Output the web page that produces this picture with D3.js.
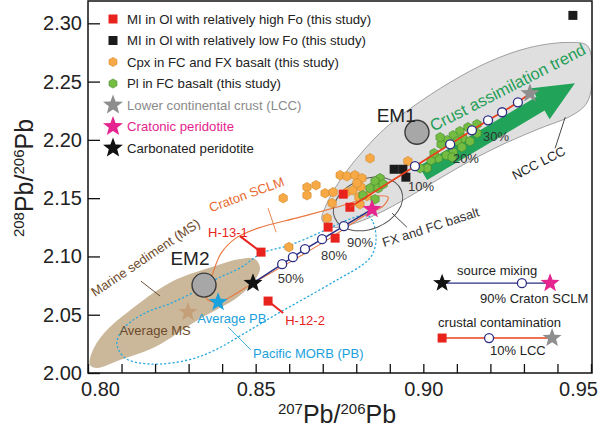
<!DOCTYPE html>
<html><head><meta charset="utf-8">
<script src="https://cdn.jsdelivr.net/npm/d3@7"></script>
<style>body{margin:0;background:#fff}svg{display:block;font-family:"Liberation Sans",Arial,sans-serif}</style>
</head><body><svg id="c" width="600" height="436"></svg>
<script>
// ---------------- data ----------------
const xMajor = [0.80, 0.85, 0.90, 0.95];
const xMinor = [0.80,0.81,0.82,0.83,0.84,0.85,0.86,0.87,0.88,0.89,0.90,0.91,0.92,0.93,0.94,0.95];
const yTicks = [2.00, 2.05, 2.10, 2.15, 2.20, 2.25, 2.30];

// MI in Ol, relatively high Fo (red squares)
const miHighFo = [[0.8516,2.1037],[0.8537,2.0617],[0.8761,2.1534],[0.8781,2.1422],[0.8716,2.1251],[0.8737,2.1157]];
// MI in Ol, relatively low Fo (black squares)
const miLowFo = [[0.8913,2.1748],[0.8939,2.1748],[0.8948,2.1680],[0.9446,2.3068]];
// Cpx in FC and FX basalt (orange hexagons)
const cpx = [[0.8841,2.1842],[0.8954,2.1817],[0.8752,2.1697],[0.8772,2.1688],[0.8796,2.1697],[0.8817,2.1671],
  [0.8653,2.1594],[0.8680,2.1611],[0.8653,2.1525],[0.8707,2.1542],[0.8731,2.1551],[0.8772,2.1551],[0.8790,2.1568],
  [0.8814,2.1594],[0.8808,2.1508],[0.8832,2.1517],[0.8728,2.1457],[0.8811,2.1448],[0.8713,2.1328],[0.8582,2.1500],
  [0.8599,2.1080],[0.8802,2.1628]];
// Pl in FC basalt (green hexagons)
const pl = [[0.9160,2.2134],[0.9133,2.2108],[0.9109,2.2074],[0.9089,2.2039],[0.9160,2.2057],[0.9118,2.2014],
  [0.9101,2.1988],[0.9071,2.1997],[0.9053,2.1962],[0.9050,2.2022],[0.9115,2.1937],[0.9089,2.1894],[0.9068,2.1868],
  [0.9044,2.1842],[0.9023,2.1825],[0.9086,2.1851],[0.9011,2.1757],[0.9032,2.1885],[0.8871,2.1671],[0.8856,2.1645],
  [0.8841,2.1585],[0.8865,2.1585],[0.8880,2.1620],[0.8856,2.1491],[0.8820,2.1525],[0.8990,2.1757],[0.9139,2.1988]];

// end members
const em1 = [0.8981, 2.2065];
const em2 = [0.8346, 2.0754];
const lccStar = [0.9318, 2.2399];
const cratonicStar = [0.8847, 2.1405];
const carbonatedStar = [0.8492, 2.0771];
const avgMS = [0.8298, 2.0523];
const avgPB = [0.8388, 2.0608];

// mixing curves
const sourceMixing = [[0.8492,2.0771],[0.8579,2.0934],[0.8611,2.0994],[0.8647,2.1063],[0.8698,2.1148],[0.8763,2.1260],[0.8847,2.1405]];
const sourceMixNodes = [[0.8579,2.0934],[0.8611,2.0994],[0.8647,2.1063],[0.8698,2.1148],[0.8763,2.1260]];
const crustMixing = [[0.8781,2.1422],[0.8975,2.1774],[0.9080,2.1962],[0.9145,2.2082],[0.9193,2.2168],[0.9235,2.2237],[0.9282,2.2322],[0.9318,2.2399]];
const crustMixNodes = [[0.8975,2.1774],[0.9080,2.1962],[0.9145,2.2082],[0.9193,2.2168],[0.9235,2.2237],[0.9282,2.2322]];
const pctLabels = [["10%",0.8993,2.1560],["20%",0.9127,2.1799],["30%",0.9217,2.1988],["50%",0.8605,2.0771],["80%",0.8734,2.0968],["90%",0.8811,2.1080]];

// fields
const nccLcc = [[0.8698,2.1311],[0.8710,2.1440],[0.8752,2.1654],[0.8817,2.1894],[0.8886,2.2099],[0.8966,2.2279],
  [0.9080,2.2494],[0.9199,2.2674],[0.9318,2.2793],[0.9432,2.2836],[0.9488,2.2811],[0.9503,2.2682],[0.9503,2.2468],
  [0.9485,2.2305],[0.9438,2.2202],[0.9348,2.2099],[0.9244,2.1971],[0.9154,2.1842],[0.9065,2.1697],[0.8975,2.1542],
  [0.8886,2.1397],[0.8796,2.1285],[0.8731,2.1251]];
const marineSed = [[0.8006,2.0069],[0.8012,2.0180],[0.8048,2.0343],[0.8119,2.0523],[0.8248,2.0780],[0.8379,2.0917],
  [0.8453,2.0977],[0.8498,2.0977],[0.8513,2.0900],[0.8498,2.0797],[0.8447,2.0651],[0.8328,2.0454],[0.8200,2.0223],
  [0.8095,2.0111],[0.8027,2.0043]];
const pacificMorb = [[0.8832,2.1354],[0.8850,2.1294],[0.8859,2.1140],[0.8847,2.1011],[0.8817,2.0925],[0.8752,2.0814],
  [0.8653,2.0651],[0.8558,2.0497],[0.8468,2.0343],[0.8379,2.0197],[0.8298,2.0111],[0.8185,2.0077],[0.8110,2.0129],
  [0.8086,2.0257],[0.8110,2.0394],[0.8170,2.0514],[0.8248,2.0600],[0.8328,2.0711],[0.8388,2.0814],[0.8453,2.0900],
  [0.8519,2.1028],[0.8602,2.1097],[0.8701,2.1217],[0.8772,2.1311]];
const cratonSclm = [[0.8349,2.0686],[0.8370,2.0840],[0.8397,2.1028],[0.8441,2.1157],[0.8507,2.1243],[0.8632,2.1337],
  [0.8752,2.1431],[0.8856,2.1517],[0.8895,2.1508],[0.8880,2.1431],[0.8826,2.1354],[0.8722,2.1157],[0.8602,2.0951],
  [0.8492,2.0771],[0.8388,2.0608],[0.8355,2.0634]];
const fxfcCenter = [0.8835, 2.1450];
const trendArrow = [[0.8999,2.1714],[0.9452,2.2485]];

const legendLabels = ["MI in Ol with relatively high Fo (this study)","MI in Ol with relatively low Fo (this study)",
  "Cpx in FC and FX basalt (this study)","Pl in FC basalt (this study)","Lower continental crust (LCC)",
  "Cratonic peridotite","Carbonated peridotite"];

// ---------------- drawing ----------------
const svg = d3.select("#c");
const x = d3.scaleLinear().domain([0.80,0.95]).range([88,591]);
const y = d3.scaleLinear().domain([2.00,2.32]).range([373,0]);
const X = d => x(d[0]), Y = d => y(d[1]);

svg.append("defs").append("clipPath").attr("id","clip").append("rect")
  .attr("x",88).attr("y",1).attr("width",504).attr("height",372);
const g = svg.append("g").attr("clip-path","url(#clip)");

const closed = d3.line().x(X).y(Y).curve(d3.curveCatmullRomClosed.alpha(0.5));
const open = d3.line().x(X).y(Y);

function starPath(r){const p=[];for(let i=0;i<10;i++){const a=-Math.PI/2+i*Math.PI/5,rr=i%2?r*0.42:r;p.push([rr*Math.cos(a),rr*Math.sin(a)]);}return "M"+p.map(q=>q[0].toFixed(2)+","+q[1].toFixed(2)).join("L")+"Z";}
function hexPath(r){const p=[];for(let i=0;i<6;i++){const a=Math.PI/6+i*Math.PI/3;p.push([r*Math.cos(a),r*Math.sin(a)]);}return "M"+p.map(q=>q[0].toFixed(2)+","+q[1].toFixed(2)).join("L")+"Z";}

// fields
g.append("path").attr("d",closed(marineSed)).attr("fill","#cbb89a");
g.append("path").attr("d",closed(nccLcc)).attr("fill","#e0dfdf").attr("stroke","#8a8a8a").attr("stroke-width",0.8);
g.append("path").attr("d",closed(pacificMorb)).attr("fill","none").attr("stroke","#2aa9df").attr("stroke-width",1.3).attr("stroke-dasharray","2.2,2");
g.append("path").attr("d",closed(cratonSclm)).attr("fill","none").attr("stroke","#e9773f").attr("stroke-width",1.1);
g.append("ellipse").attr("cx",X(fxfcCenter)).attr("cy",Y(fxfcCenter)).attr("rx",36).attr("ry",25)
  .attr("transform",`rotate(-22 ${X(fxfcCenter)} ${Y(fxfcCenter)})`).attr("fill","none").attr("stroke","#555").attr("stroke-width",1);

// trend arrow
(function(){
  const T=[X(trendArrow[0]),Y(trendArrow[0])], P=[X(trendArrow[1]),Y(trendArrow[1])];
  const len=Math.hypot(P[0]-T[0],P[1]-T[1]), u=[(P[0]-T[0])/len,(P[1]-T[1])/len], n=[-u[1],u[0]];
  const bw=8, hw=18, hl=40, B=[P[0]-u[0]*hl,P[1]-u[1]*hl];
  const pts=[[T[0]+n[0]*bw,T[1]+n[1]*bw],[B[0]+n[0]*bw,B[1]+n[1]*bw],[B[0]+n[0]*hw,B[1]+n[1]*hw],P,
    [B[0]-n[0]*hw,B[1]-n[1]*hw],[B[0]-n[0]*bw,B[1]-n[1]*bw],[T[0]-n[0]*bw,T[1]-n[1]*bw]];
  g.append("path").attr("d","M"+pts.join("L")+"Z").attr("fill","#21a35a");
})();

// annotation lines
const leaders = [
  {a:[0.8158,2.0788],b:[0.8215,2.0660],c:"#5a3c22",w:0.9},
  {a:[0.8418,2.0394],b:[0.8486,2.0197],c:"#2aa9df",w:0.9},
  {a:[0.8537,2.1414],b:[0.8561,2.1208],c:"#e9773f",w:0.9},
  {a:[0.8907,2.1371],b:[0.8951,2.1251],c:"#333",w:0.9},
  {a:[0.9393,2.1928],b:[0.9423,2.2194],c:"#333",w:0.9},
  {a:[0.8453,2.1174],b:[0.8516,2.1037],c:"#e8231e",w:2},
  {a:[0.8537,2.0617],b:[0.8582,2.0514],c:"#e8231e",w:2}
];
leaders.forEach(l=>g.append("line").attr("x1",X(l.a)).attr("y1",Y(l.a)).attr("x2",X(l.b)).attr("y2",Y(l.b)).attr("stroke",l.c).attr("stroke-width",l.w));

// EM circles
[em1,em2].forEach(d=>g.append("circle").attr("cx",X(d)).attr("cy",Y(d)).attr("r",12).attr("fill","#a7a7a7").attr("stroke","#3a3a3a").attr("stroke-width",1.4));

// data points
g.selectAll(".cpx").data(cpx).join("path").attr("transform",d=>`translate(${X(d)},${Y(d)})`).attr("d",hexPath(4.8)).attr("fill","#f6a945").attr("stroke","#d1862a").attr("stroke-width",0.6);
g.selectAll(".pl").data(pl).join("path").attr("transform",d=>`translate(${X(d)},${Y(d)})`).attr("d",hexPath(4.8)).attr("fill","#74bd42").attr("stroke","#3f8a2a").attr("stroke-width",0.6);
g.selectAll(".lo").data(miLowFo).join("rect").attr("x",d=>X(d)-4.5).attr("y",d=>Y(d)-4.5).attr("width",9).attr("height",9).attr("fill","#1b1b1b");
g.selectAll(".hi").data(miHighFo).join("rect").attr("x",d=>X(d)-4.5).attr("y",d=>Y(d)-4.5).attr("width",9).attr("height",9).attr("fill","#e8231e");

// mixing lines
g.append("path").attr("d",open(crustMixing)).attr("fill","none").attr("stroke","#e8401c").attr("stroke-width",1.8);
g.append("path").attr("d",open(sourceMixing)).attr("fill","none").attr("stroke","#2b2e83").attr("stroke-width",1.5);
g.selectAll(".cn").data(crustMixNodes.concat(sourceMixNodes)).join("circle").attr("cx",X).attr("cy",Y).attr("r",4.5)
  .attr("fill","#fff").attr("stroke","#2b2e83").attr("stroke-width",1.3);

// stars
const stars=[[lccStar,"#8e8e8e",10],[cratonicStar,"#e5248f",10],[carbonatedStar,"#111",10],[avgMS,"#c49f78",10],[avgPB,"#1ba1dc",10]];
stars.forEach(s=>g.append("path").attr("transform",`translate(${X(s[0])},${Y(s[0])})`).attr("d",starPath(s[2])).attr("fill",s[1]));

// text annotations
function label(t,p,opt){
  const e=g.append("text").attr("transform",`translate(${X(p)},${Y(p)}) rotate(${opt.rot||0})`)
    .attr("font-size",opt.size||13).attr("fill",opt.color||"#222").attr("text-anchor",opt.anchor||"start").text(t);
  return e;
}
label("EM1",[0.8919,2.2151],{size:19,anchor:"middle"});
label("EM2",[0.8304,2.0925],{size:19,anchor:"middle"});
label("Crust assimilation trend",[0.9030,2.2070],{size:16.5,color:"#1f9e57",rot:-27});
label("Marine sediment (MS)",[0.8021,2.0651],{rot:-34,color:"#6e4b2c"});
label("Average MS",[0.8200,2.0326],{anchor:"middle",color:"#6e4b2c"});
label("Average PB",[0.8429,2.0428],{anchor:"middle",color:"#1ba1dc"});
label("Pacific MORB (PB)",[0.8492,2.0129],{color:"#1ba1dc"});
label("H-13-1",[0.8358,2.1165],{color:"#e8231e"});
label("H-12-2",[0.8588,2.0411],{color:"#e8231e"});
label("Craton SCLM",[0.8367,2.1380],{rot:-20,color:"#e8692c"});
label("FX and FC basalt",[0.8883,2.1080],{rot:-18,color:"#333"});
label("NCC LCC",[0.9273,2.1654],{rot:-27,color:"#222"});
pctLabels.forEach(p=>label(p[0],[p[1],p[2]],{anchor:"middle",color:"#333"}));

// inset key
const keySrc=[[0.9056,2.0771],[0.9294,2.0771],[0.9378,2.0771]];
const keyCrust=[[0.9056,2.0300],[0.9196,2.0300],[0.9384,2.0300]];
g.append("path").attr("d",open([keySrc[0],keySrc[2]])).attr("stroke","#2b2e83").attr("stroke-width",1.3).attr("fill","none");
g.append("path").attr("d",open([keyCrust[0],keyCrust[2]])).attr("stroke","#e8401c").attr("stroke-width",1.6).attr("fill","none");
g.append("path").attr("transform",`translate(${X(keySrc[0])},${Y(keySrc[0])})`).attr("d",starPath(9.5)).attr("fill","#111");
g.append("path").attr("transform",`translate(${X(keySrc[2])},${Y(keySrc[2])})`).attr("d",starPath(10)).attr("fill","#e5248f");
g.append("rect").attr("x",X(keyCrust[0])-4.5).attr("y",Y(keyCrust[0])-4.5).attr("width",9).attr("height",9).attr("fill","#e8231e");
g.append("path").attr("transform",`translate(${X(keyCrust[2])},${Y(keyCrust[2])})`).attr("d",starPath(10)).attr("fill","#8e8e8e");
[keySrc[1],keyCrust[1]].forEach(d=>g.append("circle").attr("cx",X(d)).attr("cy",Y(d)).attr("r",4.5).attr("fill","#fff").attr("stroke","#2b2e83").attr("stroke-width",1.3));
label("source mixing",[0.9220,2.0840],{anchor:"middle"});
label("90% Craton SCLM",[0.9169,2.0600],{});
label("crustal contamination",[0.9044,2.0394],{});
label("10% LCC",[0.9199,2.0154],{});

// top-left legend
const legSym=["sq","sq","hex","hex","star","star","star"];
const legCol=["#e8231e","#1b1b1b","#f6a945","#74bd42","#8e8e8e","#e5248f","#111"];
const legTxt=["#222","#222","#222","#222","#8a8a8a","#e5248f","#222"];
const leg=svg.append("g");
legendLabels.forEach((t,i)=>{
  const cy=19+i*21.5, cx=113;
  if(legSym[i]==="sq") leg.append("rect").attr("x",cx-4.5).attr("y",cy-4.5).attr("width",9).attr("height",9).attr("fill",legCol[i]);
  else if(legSym[i]==="hex") leg.append("path").attr("transform",`translate(${cx},${cy})`).attr("d",hexPath(4.6)).attr("fill",legCol[i]).attr("stroke",i===2?"#d1862a":"#3f8a2a").attr("stroke-width",0.6);
  else leg.append("path").attr("transform",`translate(${cx},${cy})`).attr("d",starPath(10.5)).attr("fill",legCol[i]);
  leg.append("text").attr("x",127).attr("y",cy).attr("dy","0.36em").attr("font-size",13.2).attr("fill",legTxt[i]).text(t);
});

// axes
const ax=svg.append("g").attr("transform","translate(0,373)")
  .call(d3.axisBottom(x).tickValues(xMinor).tickSize(-9).tickSizeOuter(0).tickPadding(9)
    .tickFormat(d=>xMajor.some(m=>Math.abs(m-d)<1e-9)?d3.format(".2f")(d):""));
const ay=svg.append("g").attr("transform","translate(88,0)")
  .call(d3.axisLeft(y).tickValues(yTicks).tickSize(-12).tickSizeOuter(0).tickPadding(6).tickFormat(d3.format(".2f")));
[ax,ay].forEach(a=>{a.selectAll("text").attr("font-size",20).attr("fill","#222").attr("font-family","Liberation Sans, Arial, sans-serif");
  a.selectAll("line").attr("stroke","#111").attr("stroke-width",1.3); a.select(".domain").remove();});
ax.selectAll(".tick text").filter(d=>Math.abs(d-0.80)<1e-9).attr("dx",12);
ax.selectAll(".tick text").filter(d=>Math.abs(d-0.95)<1e-9).attr("dx",-13);
svg.append("rect").attr("x",88).attr("y",1).attr("width",504).attr("height",372).attr("fill","none").attr("stroke","#111").attr("stroke-width",1.5);

// axis titles
function isoTitle(sel,a){
  const t=sel.append("text").attr("text-anchor","middle").attr("fill","#222");
  t.append("tspan").attr("font-size",15).attr("dy",-9).text(a);
  t.append("tspan").attr("font-size",25).attr("dy",9).text("Pb/");
  t.append("tspan").attr("font-size",15).attr("dy",-9).text("206");
  t.append("tspan").attr("font-size",25).attr("dy",9).text("Pb");
  return t;
}
isoTitle(svg.append("g").attr("transform","translate(337,423)"),"207");
isoTitle(svg.append("g").attr("transform","translate(33,178) rotate(-90)"),"208");
</script></body></html>
